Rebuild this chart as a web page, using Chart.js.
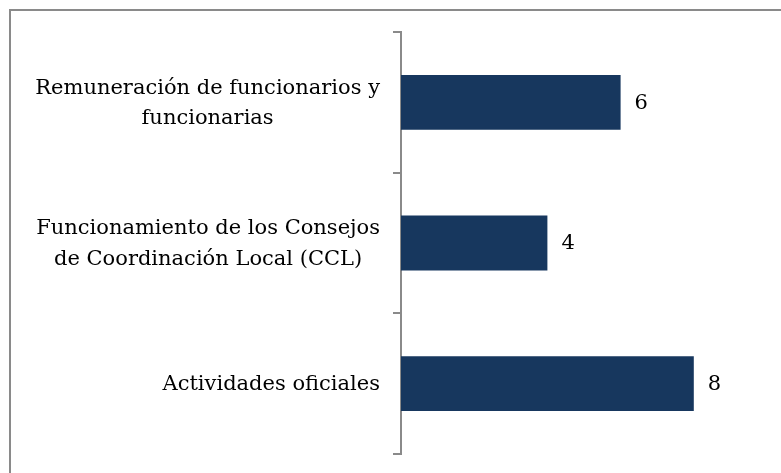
<!DOCTYPE html>
<html>
<head>
<meta charset="utf-8">
<script src="https://cdn.jsdelivr.net/npm/chart.js@4/dist/chart.umd.min.js"></script>
<style>
  html, body { margin: 0; padding: 0; background: #fff; overflow: hidden; }
  #wrap { position: relative; width: 781px; height: 473px; }
  #frame { position: absolute; left: 9px; top: 9px; width: 800px; height: 500px; border: 2px solid #8a8a8a; box-sizing: border-box; }
  canvas { position: absolute; left: 0; top: 0; }
</style>
</head>
<body>
<div id="wrap">
  <div id="frame"></div>
  <canvas id="chart" width="781" height="473"></canvas>
</div>
<script>
const categories = [
  ["Remuneración de funcionarios y", "funcionarias"],
  ["Funcionamiento de los Consejos", "de Coordinación Local (CCL)"],
  ["Actividades oficiales"],
];
const values = [6, 4, 8];
const xMax = 10;

const FONT = "21px 'DejaVu Serif'";
const LINE_H = 30.5;

// category labels: right-aligned as a block, lines centred inside the block
const labelPlugin = {
  id: "labels",
  afterDraw(chart) {
    const ctx = chart.ctx;
    const y = chart.scales.y;
    const right = y.right - 21;
    ctx.save();
    ctx.font = FONT;
    ctx.fillStyle = "#000";
    ctx.textAlign = "center";
    ctx.textBaseline = "middle";
    categories.forEach((lines, i) => {
      const w = Math.max(...lines.map(l => ctx.measureText(l).width));
      const cx = right - w / 2;
      const cy = y.getPixelForValue(i) + 1;
      lines.forEach((l, j) => {
        ctx.fillText(l, cx, cy + (j - (lines.length - 1) / 2) * LINE_H);
      });
    });

    // value labels at bar ends
    ctx.textAlign = "left";
    chart.getDatasetMeta(0).data.forEach((bar, i) => {
      ctx.fillText(String(values[i]), bar.x + 14, bar.y + 1);
    });
    ctx.restore();
  },
};

new Chart(document.getElementById("chart").getContext("2d"), {
  type: "bar",
  data: {
    labels: categories,
    datasets: [{
      data: values,
      backgroundColor: "#17375e",
      barPercentage: 0.39,
      categoryPercentage: 1,
    }],
  },
  options: {
    indexAxis: "y",
    responsive: false,
    animation: false,
    events: [],
    layout: { padding: { top: 32, bottom: 19, right: 14, left: 0 } },
    plugins: { legend: { display: false }, tooltip: { enabled: false } },
    scales: {
      x: { display: false, min: 0, max: xMax },
      y: {
        offset: true,
        ticks: { display: false },
        grid: { drawOnChartArea: false, color: "#8a8a8a", lineWidth: 2, tickLength: 8 },
        border: { color: "#8a8a8a", width: 2 },
        afterFit(scale) { scale.width = 401; },
      },
    },
  },
  plugins: [labelPlugin],
});
</script>
</body>
</html>
